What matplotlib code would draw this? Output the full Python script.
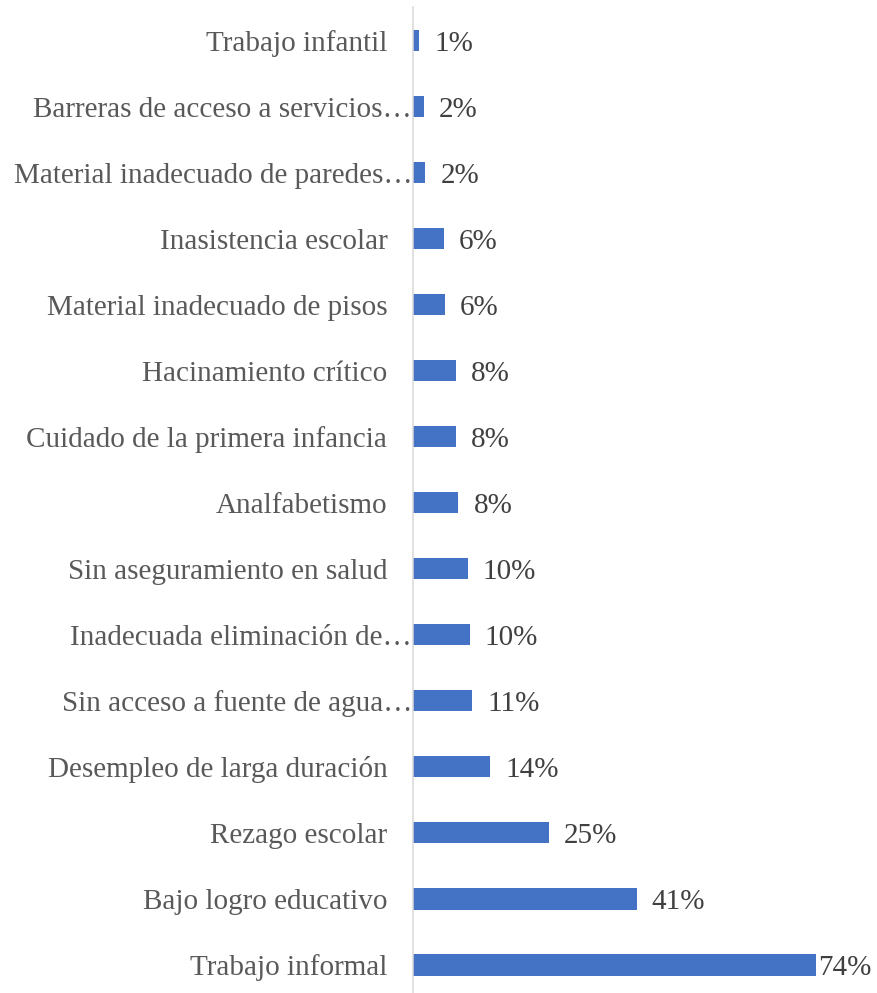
import matplotlib
matplotlib.use("Agg")
import matplotlib.pyplot as plt

# Indicators listed from top to bottom, share of households deprived (%)
categories = [
    "Trabajo infantil",
    "Barreras de acceso a servicios\u2026",
    "Material inadecuado de paredes\u2026",
    "Inasistencia escolar",
    "Material inadecuado de pisos",
    "Hacinamiento crítico",
    "Cuidado de la primera infancia",
    "Analfabetismo",
    "Sin aseguramiento en salud",
    "Inadecuada eliminación de\u2026",
    "Sin acceso a fuente de agua\u2026",
    "Desempleo de larga duración",
    "Rezago escolar",
    "Bajo logro educativo",
    "Trabajo informal",
]
values = [1.1, 2.0, 2.2, 5.6, 5.8, 7.8, 7.9, 8.3, 10.0, 10.4, 10.8, 14.1, 24.9, 41.1, 74.0]
truncated = [c.endswith("\u2026") for c in categories]

BAR_COLOR = "#4472C4"
CAT_COLOR = "#595959"
VAL_COLOR = "#404040"
FONT = "Liberation Serif"

W, H, DPI = 877, 993, 100
fig = plt.figure(figsize=(W / DPI, H / DPI), dpi=DPI)
x0, x1 = 413.3, 815.7
y_top, y_bot = 7.5, 998.0
ax = fig.add_axes([x0 / W, (H - y_bot) / H, (x1 - x0) / W, (y_bot - y_top) / H])

pos = list(range(len(categories)))
ax.barh(pos, values, height=0.32, color=BAR_COLOR, zorder=2)
ax.set_xlim(0, max(values))
ax.set_ylim(len(categories) - 0.5, -0.5)

for side in ("top", "right", "bottom"):
    ax.spines[side].set_visible(False)
ax.spines["left"].set_color("#D9D9D9")
ax.spines["left"].set_linewidth(1.1)
ax.spines["left"].set_zorder(3)
ax.set_xticks([])
ax.set_yticks([])

# Category labels to the left of the axis line
for i, (name, cut) in enumerate(zip(categories, truncated)):
    off = -0.8 if cut else -18.7
    ax.annotate(name, xy=(0, i), xytext=(off, 0), textcoords="offset points",
                ha="right", va="center_baseline", fontsize=21, family=FONT,
                color=CAT_COLOR, annotation_clip=False)

# Value labels at the end of each bar
vmax = max(values)
for i, v in enumerate(values):
    off = 2.0 if v == vmax else 10.8
    ax.annotate(f"{v:.0f}%", xy=(v, i), xytext=(off, 0), textcoords="offset points",
                ha="left", va="center_baseline", fontsize=21, family=FONT,
                color=VAL_COLOR, annotation_clip=False)

fig.savefig("out.png", dpi=DPI, facecolor="white")
